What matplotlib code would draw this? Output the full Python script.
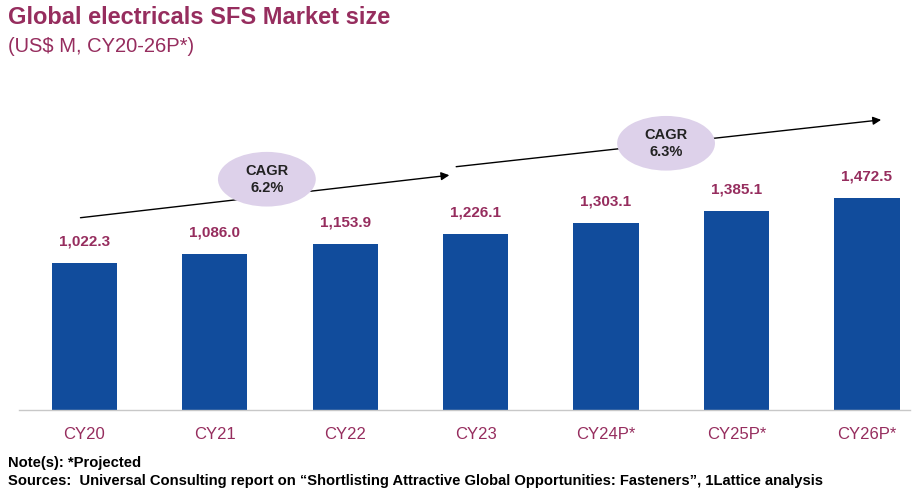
import matplotlib.pyplot as plt
from matplotlib.patches import Ellipse

plt.rcParams['font.family'] = ['Liberation Sans', 'DejaVu Sans']

# 数据
years = ['CY20', 'CY21', 'CY22', 'CY23', 'CY24P*', 'CY25P*', 'CY26P*']
market_size = [1022.3, 1086.0, 1153.9, 1226.1, 1303.1, 1385.1, 1472.5]
cagr_labels = ['CAGR\n6.2%', 'CAGR\n6.3%']

bar_color = '#114c9c'
maroon = '#962d5e'

fig = plt.figure(figsize=(9.17, 4.91), dpi=100)
ax = fig.add_axes([19 / 917, 1 - 410 / 491, (910 - 19) / 917, (410 - 80) / 491])

x = range(len(years))
ax.bar(x, market_size, width=0.5, color=bar_color)
for i, v in zip(x, market_size):
    ax.text(i, v + 100, f'{v:,.1f}', ha='center', va='bottom',
            fontsize=11, fontweight='bold', color=maroon)

ax.set_xlim(-0.5, 6.33)
ax.set_ylim(0, 2295)
ax.set_xticks(list(x))
ax.set_xticklabels(years, fontsize=12, color=maroon)
ax.tick_params(axis='x', length=0, pad=12)
ax.set_yticks([])
for s in ['top', 'right', 'left']:
    ax.spines[s].set_visible(False)
ax.spines['bottom'].set_color('#c8c8c8')
ax.spines['bottom'].set_linewidth(1)

# CAGR 箭头与椭圆
ax.annotate('', xy=(2.82, 1635), xytext=(-0.05, 1335),
            arrowprops=dict(arrowstyle='-|>', color='black', lw=1, mutation_scale=12))
ax.annotate('', xy=(6.13, 2020), xytext=(2.83, 1690),
            arrowprops=dict(arrowstyle='-|>', color='black', lw=1, mutation_scale=12))
for cx, cy, lab in [(1.4, 1605, cagr_labels[0]), (4.46, 1855, cagr_labels[1])]:
    ax.add_patch(Ellipse((cx, cy), 0.75, 380, facecolor='#ddd1ea', edgecolor='none', zorder=3))
    ax.text(cx, cy, lab, ha='center', va='center', fontsize=10.5,
            fontweight='bold', color='#222222', zorder=4, linespacing=1.3)

# 标题
fig.text(8 / 917, 1 - 18 / 491, 'Global electricals SFS Market size', fontsize=17,
         fontweight='bold', color=maroon, va='center')
fig.text(8 / 917, 1 - 47 / 491, '(US$ M, CY20-26P*)', fontsize=14.5,
         color=maroon, va='center')

# 注释
fig.text(8 / 917, 1 - 463 / 491, 'Note(s): *Projected', fontsize=10.6,
         fontweight='bold', va='center')
fig.text(8 / 917, 1 - 481 / 491,
         'Sources:  Universal Consulting report on \u201cShortlisting Attractive Global Opportunities: Fasteners\u201d, 1Lattice analysis',
         fontsize=10.6, fontweight='bold', va='center')

plt.savefig('out.png', dpi=100)
